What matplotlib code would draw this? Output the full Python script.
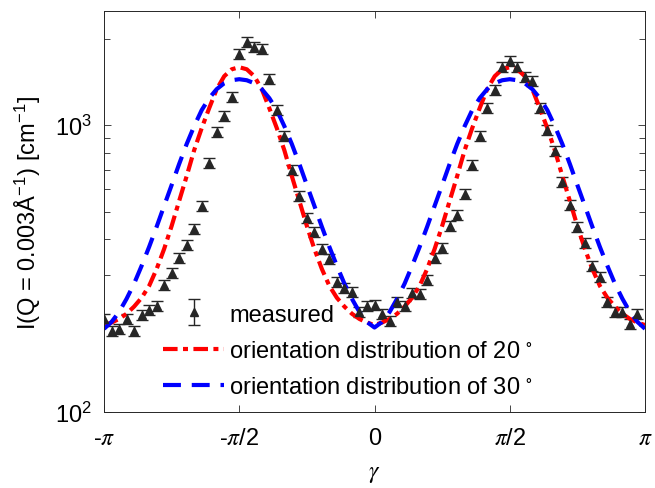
import matplotlib
matplotlib.use('Agg')
import matplotlib.pyplot as plt
from matplotlib.ticker import LogLocator, NullFormatter
from matplotlib.legend_handler import HandlerErrorbar
import numpy as np

plt.rcParams['font.family'] = ['Liberation Sans', 'DejaVu Sans']
plt.rcParams['mathtext.fontset'] = 'stix'

# measured intensity, every 5 degrees from -180 to 175
angle_deg = np.arange(-180, 180, 5)
measured = [211, 192, 195, 211, 192, 218, 227, 234, 277, 305,
            344, 382, 435, 523, 737, 945, 1075, 1252, 1767, 1945,
            1869, 1839, 1446, 1128, 915, 697, 566, 475, 424, 370,
            342, 284, 271, 262, 223, 234, 236, 220, 208, 242,
            234, 260, 258, 289, 344, 373, 445, 486, 575, 726,
            915, 1146, 1324, 1592, 1671, 1592, 1469, 1423, 1146, 961,
            812, 633, 527, 442, 388, 323, 296, 242, 223, 223,
            203, 220]
rel_err = 0.04

# model curves, every 5 degrees from -180 to 180
model_deg = np.arange(-180, 181, 5)
fit_20 = [201, 205, 211, 220, 233, 250, 275, 315, 370, 445, 544, 664, 818, 976, 1146, 1335, 1481, 1566, 1592,
          1566, 1481, 1335, 1146, 976, 818, 664, 544, 445, 370, 315, 275, 250, 233, 220, 211, 205, 201,
          205, 211, 220, 233, 250, 275, 315, 370, 445, 544, 664, 818, 976, 1146, 1335, 1481, 1566, 1592,
          1566, 1481, 1335, 1146, 976, 818, 664, 544, 445, 370, 315, 275, 250, 233, 220, 211, 205, 201]
fit_30 = [195, 206, 223, 248, 280, 323, 376, 442, 523, 618, 732, 859, 992, 1128, 1242, 1335, 1400, 1434, 1446,
          1434, 1400, 1335, 1242, 1128, 992, 859, 732, 618, 523, 442, 376, 323, 280, 248, 223, 206, 197,
          206, 223, 248, 280, 323, 376, 442, 523, 618, 732, 859, 992, 1128, 1242, 1335, 1400, 1434, 1446,
          1434, 1400, 1335, 1242, 1128, 992, 859, 732, 618, 523, 442, 376, 323, 280, 248, 223, 206, 195]

x_ticks = [-np.pi, -np.pi / 2, 0, np.pi / 2, np.pi]
x_labels = [r'-$\pi$', r'-$\pi$/2', '0', r'$\pi$/2', r'$\pi$']

axis_col = '#262626'

fig = plt.figure(figsize=(6.55, 4.89), dpi=100)
ax = fig.add_axes([104 / 655, 76 / 489, 541 / 655, 401 / 489])

I = np.array(measured, dtype=float)
meas = ax.errorbar(np.deg2rad(angle_deg), I, yerr=rel_err * I, fmt='^', color=axis_col,
                   ms=6, capsize=4.5, elinewidth=1, capthick=1, label='measured')
l20, = ax.plot(np.deg2rad(model_deg), fit_20, color='#ff0000', lw=3, dashes=(3.5, 1.3, 1.2, 1.3),
               label=r'orientation distribution of 20$^{\;\circ}$')
l30, = ax.plot(np.deg2rad(model_deg), fit_30, color='#0000ff', lw=3, dashes=(4.3, 2.6),
               label=r'orientation distribution of 30$^{\;\circ}$')

ax.set_yscale('log')
ax.set_xlim(-np.pi, np.pi)
ax.set_ylim(100, 2500)
ax.set_xticks(x_ticks)
ax.set_xticklabels(x_labels)
ax.set_yticks([100, 1000])
ax.set_yticklabels([r'$\mathregular{10^2}$', r'$\mathregular{10^3}$'])
ax.yaxis.set_minor_locator(LogLocator(base=10, subs=np.arange(2, 10)))
ax.yaxis.set_minor_formatter(NullFormatter())

ax.tick_params(which='both', direction='in', top=True, right=True, color=axis_col,
               labelsize=17, width=0.6)
ax.tick_params(which='major', length=5)
ax.tick_params(which='minor', length=4)
ax.tick_params(axis='x', pad=11)
ax.tick_params(axis='y', pad=9)
for sp in ax.spines.values():
    sp.set_color(axis_col)
    sp.set_linewidth(0.7)

ax.set_xlabel(r'$\gamma$', fontsize=17, labelpad=9)
ax.set_ylabel(r'I(Q = 0.003Å$^{\mathregular{-1}}$) [cm$^{\mathregular{-1}}$]', fontsize=17, labelpad=9)

ax.legend(handles=[meas, l20, l30], loc='lower left', bbox_to_anchor=(0.109, 0.035),
          frameon=False, fontsize=17, handlelength=2.6, handletextpad=0.2, labelspacing=0.6,
          borderpad=0, borderaxespad=0,
          handler_map={type(meas): HandlerErrorbar(yerr_size=0.55)})

fig.savefig('out.png', dpi=100, facecolor='white')
